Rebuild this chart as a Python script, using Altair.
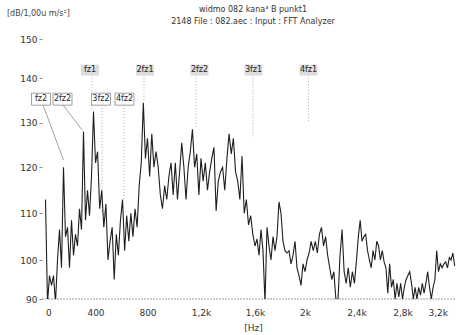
import altair as alt
import pandas as pd

# Spectrum level, one value every 16 Hz starting at 0 Hz
STEP_HZ = 16
level_db = [
    113, 89, 96, 93.5, 96, 89, 100, 106.5, 98, 120,
    105, 107, 98, 108.5, 101, 105.5, 103, 111, 106.5, 128,
    108.5, 115, 109.5, 118, 132.5, 121, 123.5, 111, 115, 107,
    112, 100, 104, 107, 95, 105.5, 101, 108.5, 113, 102,
    109.5, 104, 110, 105, 111, 107, 116, 121, 134.5, 122,
    126.5, 118, 127.5, 120, 123.5, 120, 114, 111, 116, 113,
    118, 121, 114, 121, 113, 119, 125.5, 120, 113, 120,
    123.5, 128.5, 120, 123, 114, 122, 117, 121, 115, 119,
    122, 124.5, 110.5, 117, 119, 120, 115, 122, 127.5, 123,
    126.5, 119, 117, 113, 122.5, 110, 113, 107.5, 109.5, 105.5,
    103, 104.5, 101, 106.5, 102, 89, 107, 103, 100, 105,
    102, 105, 112.5, 110, 104, 102, 101.5, 102, 99, 101,
    104, 98, 96, 93.5, 99, 97, 100, 101.5, 104, 102,
    104, 101.5, 105.5, 107, 103, 105, 101, 98, 95, 97,
    90, 89.5, 101, 106.5, 97, 94, 98, 93, 97, 94,
    100, 105, 108.5, 104, 105, 105.5, 102, 100, 98, 102,
    100, 104, 103, 100, 102, 99.5, 98, 91.5, 99, 93,
    95, 90, 94, 90.5, 94, 90, 93, 95, 96, 97,
    94, 90, 93, 90, 93, 91, 94, 91.5, 94, 97,
    93, 90, 93, 95, 102, 97, 99, 98, 99, 99.5,
    98, 100.5, 100, 101.5, 98.5,
]
freq_hz = [i * STEP_HZ for i in range(len(level_db))]

# Axis ticks and their labels
x_ticks = [0, 400, 800, 1200, 1600, 2000, 2400, 2800, 3200]
x_tick_labels = ["0", "400", "800", "1,2k", "1,6k", "2k", "2,4k", "2,8k", "3,2k"]
y_ticks = [90, 100, 110, 120, 130, 140, 150]

# Piecewise-linear axis calibration (scale knots -> pixel range)
x_range_px = [3.5, 53.5, 105.5, 159, 213, 263, 314.5, 360.5, 405.5]
y_range_px = [263, 224, 177.3, 131.3, 86.7, 42.3, 3.3]

# Harmonic markers
upper_marks = ["fz1", "2fz1", "2fz2", "3fz1", "4fz1"]
upper_marks_hz = [356, 781, 1189, 1589, 2027]
upper_marks_db = [142.1] * 5
lower_marks = ["fz2", "2fz2", "3fz2", "4fz2"]
lower_marks_hz = [-36, 136, 442, 623]
lower_marks_db = [135.3] * 4

# Leader lines: slanted (solid) and vertical (dotted)
slant_hz = [-20, 144, 140, 292]
slant_db = [134.0, 121.6, 134.0, 128.4]
slant_id = ["fz2", "fz2", "2fz2", "2fz2"]
drop_hz = [372, 773, 1163, 1585, 2027, 450, 619]
drop_top_db = [140.8, 140.8, 140.8, 140.8, 140.8, 134.0, 134.0]
drop_end_db = [133, 135, 129, 127, 130, 110, 113]

title_lines = ["widmo 082 kana³ B punkt1", "2148 File : 082.aec : Input : FFT Analyzer"]
y_unit = "[dB/1,00u m/s²]"

W, H = 414, 263
FONT = "DejaVu Sans"

spectrum = pd.DataFrame({"f": freq_hz, "db": level_db})
upper = pd.DataFrame({"f": upper_marks_hz, "db": upper_marks_db, "t": upper_marks})
lower = pd.DataFrame({"f": lower_marks_hz, "db": lower_marks_db, "t": lower_marks})
slants = pd.DataFrame({"f": slant_hz, "db": slant_db, "k": slant_id})
drops = pd.DataFrame({"f": drop_hz, "db": drop_top_db, "db2": drop_end_db})
one_row = pd.DataFrame({"k": [0]})

label_lookup = "[" + ",".join(f"'{s}'" for s in x_tick_labels) + "]"
value_lookup = "[" + ",".join(str(v) for v in x_ticks) + "]"

x_scale = alt.Scale(domain=x_ticks, range=x_range_px, nice=False, zero=False)
y_scale = alt.Scale(domain=y_ticks, range=y_range_px, nice=False, zero=False)

x_enc = alt.X(
    "f:Q",
    scale=x_scale,
    axis=alt.Axis(
        values=x_ticks,
        labelExpr=f"{label_lookup}[indexof({value_lookup}, datum.value)]",
        ticks=False,
        domain=False,
        grid=False,
        labelPadding=9,
        labelFont=FONT,
        labelFontSize=9,
        labelColor="#333",
        title="[Hz]",
        titleFont=FONT,
        titleFontSize=9,
        titleFontWeight="normal",
        titleColor="#333",
        titleX=211,
        titleY=28,
        titleBaseline="middle",
    ),
)
y_enc = alt.Y(
    "db:Q",
    scale=y_scale,
    axis=alt.Axis(
        values=y_ticks,
        domain=False,
        grid=False,
        tickSize=3,
        tickColor="#888",
        labelPadding=2,
        labelFont=FONT,
        labelFontSize=9,
        labelColor="#333",
        title=None,
    ),
)

baseline = alt.Chart(one_row).mark_rule(color="#999", strokeDash=[2, 1], strokeWidth=1).encode(
    x=alt.value(0), x2=alt.value(W), y=alt.datum(90, scale=y_scale)
)

line = alt.Chart(spectrum).mark_line(color="#1f1f1f", strokeWidth=1.1, clip=True).encode(
    x=x_enc, y=y_enc
)

drop_lines = alt.Chart(drops).mark_rule(color="#aaa", strokeDash=[1, 2], strokeWidth=1).encode(
    x=alt.X("f:Q", scale=x_scale), y=alt.Y("db:Q", scale=y_scale), y2="db2:Q"
)

slant_lines = alt.Chart(slants).mark_line(color="#888", strokeWidth=0.8).encode(
    x=alt.X("f:Q", scale=x_scale), y=alt.Y("db:Q", scale=y_scale), detail="k:N"
)

upper_box = alt.Chart(upper).mark_rect(
    color="#dcdcdc", xOffset=-9, x2Offset=9, yOffset=-5.5, y2Offset=5.5
).encode(x=alt.X("f:Q", scale=x_scale), x2="f:Q", y=alt.Y("db:Q", scale=y_scale), y2="db:Q")
upper_text = alt.Chart(upper).mark_text(font=FONT, fontSize=8, color="#222").encode(
    x=alt.X("f:Q", scale=x_scale), y=alt.Y("db:Q", scale=y_scale), text="t:N"
)

lower_box = alt.Chart(lower).mark_rect(
    fill="white", stroke="#888", strokeWidth=0.8, xOffset=-9.5, x2Offset=9.5, yOffset=-6, y2Offset=6
).encode(x=alt.X("f:Q", scale=x_scale), x2="f:Q", y=alt.Y("db:Q", scale=y_scale), y2="db:Q")
lower_text = alt.Chart(lower).mark_text(font=FONT, fontSize=8, color="#222").encode(
    x=alt.X("f:Q", scale=x_scale), y=alt.Y("db:Q", scale=y_scale), text="t:N"
)

title_a = alt.Chart(one_row).mark_text(font=FONT, fontSize=8, color="#333").encode(
    x=alt.value(211), y=alt.value(-26), text=alt.value(title_lines[0])
)
title_b = alt.Chart(one_row).mark_text(font=FONT, fontSize=8, color="#333").encode(
    x=alt.value(211), y=alt.value(-14), text=alt.value(title_lines[1])
)
unit_text = alt.Chart(one_row).mark_text(font=FONT, fontSize=8, color="#444", align="left").encode(
    x=alt.value(-35), y=alt.value(-22), text=alt.value(y_unit)
)

chart = (
    alt.layer(baseline, drop_lines, slant_lines, line, upper_box, upper_text,
              lower_box, lower_text, title_a, title_b, unit_text)
    .properties(
        width=W,
        height=H,
        autosize=alt.AutoSizeParams(type="none"),
        padding={"left": 42, "top": 36, "right": 8, "bottom": 36},
        background="white",
    )
    .configure_view(stroke=None)
)

chart.save("out.html", embed_options={"renderer": "svg", "actions": False})
